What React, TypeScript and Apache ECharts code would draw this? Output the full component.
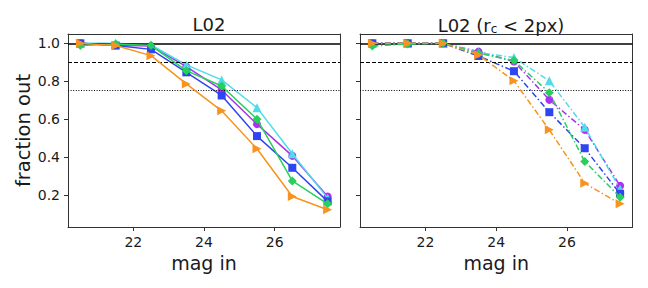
import React, { useEffect, useRef } from "react";
import * as echarts from "echarts";

const mags = [20.5, 21.5, 22.5, 23.5, 24.5, 25.5, 26.5, 27.5];
const xTicks = [22, 24, 26];
const yTicks = [0.2, 0.4, 0.6, 0.8, 1.0];
const refLines = [1.0, 0.9, 0.75];

// Left panel (L02)
const leftPurple = [1.0, 0.99, 0.986, 0.877, 0.754, 0.574, 0.407, 0.193];
const leftCyan = [1.0, 1.0, 0.991, 0.886, 0.807, 0.661, 0.418, 0.184];
const leftBlue = [1.0, 0.988, 0.968, 0.847, 0.725, 0.511, 0.344, 0.167];
const leftGreen = [0.989, 0.996, 0.988, 0.856, 0.775, 0.6, 0.275, 0.154];
const leftOrange = [1.0, 0.988, 0.935, 0.786, 0.644, 0.444, 0.193, 0.123];

// Right panel (L02, r_c < 2px)
const rightPurple = [1.0, 1.0, 1.0, 0.956, 0.904, 0.702, 0.544, 0.249];
const rightCyan = [1.0, 1.0, 1.0, 0.951, 0.925, 0.802, 0.558, 0.232];
const rightBlue = [1.0, 1.0, 1.0, 0.933, 0.853, 0.637, 0.447, 0.207];
const rightGreen = [0.986, 0.996, 1.0, 0.947, 0.909, 0.74, 0.377, 0.189];
const rightOrange = [1.0, 1.0, 1.0, 0.939, 0.802, 0.544, 0.263, 0.154];

const FONT = "DejaVu Sans";
const TXT = "#1a1a1a";

const styles = [
  { color: "#a832f0", symbol: "circle", size: 8, rot: 0 },
  { color: "#4fdcea", symbol: "triangle", size: 9, rot: 0 },
  { color: "#2f45f0", symbol: "rect", size: 8, rot: 0 },
  { color: "#27d05a", symbol: "diamond", size: 9, rot: 0 },
  { color: "#f7931e", symbol: "triangle", size: 9, rot: -90 },
];

export default function App() {
  const ref = useRef<HTMLDivElement>(null);
  useEffect(() => {
    document.body.style.margin = "0";
    if (!ref.current) return;
    const chart = echarts.init(ref.current, null, { renderer: "svg" });
    const grids = [
      { left: 68, right: 308, top: 34, bottom: 61 },
      { left: 360, right: 15.5, top: 34, bottom: 61 },
    ];
    const xAxis = [0, 1].map((i) => ({
      type: "value",
      gridIndex: i,
      min: 20.15,
      max: 27.85,
      name: "mag in",
      nameLocation: "middle",
      nameGap: 26,
      nameTextStyle: { fontFamily: FONT, fontSize: 19, color: TXT },
      splitLine: { show: false },
      axisLine: { show: true, onZero: false, lineStyle: { color: "#333", width: 1 } },
      axisTick: { show: true, length: 4, customValues: xTicks, lineStyle: { color: "#333" } },
      axisLabel: {
        customValues: xTicks,
        fontFamily: FONT,
        fontSize: 14,
        color: TXT,
        margin: 8,
      },
    }));
    const yAxis = [0, 1].map((i) => ({
      type: "value",
      gridIndex: i,
      min: 0.032,
      max: 1.049,
      name: i === 0 ? "fraction out" : "",
      nameLocation: "middle",
      nameGap: 34,
      nameTextStyle: { fontFamily: FONT, fontSize: 19.5, color: TXT },
      splitLine: { show: false },
      axisLine: { show: true, onZero: false, lineStyle: { color: "#333", width: 1 } },
      axisTick: { show: true, length: 4, customValues: yTicks, lineStyle: { color: "#333" } },
      axisLabel: {
        show: i === 0,
        customValues: yTicks,
        formatter: (v: number) => v.toFixed(1),
        fontFamily: FONT,
        fontSize: 14,
        color: TXT,
        margin: 8,
      },
    }));
    const frameX = [0, 1].map((i) => ({
      type: "value",
      gridIndex: i,
      position: "top",
      min: 20.15,
      max: 27.85,
      axisLine: { show: true, onZero: false, lineStyle: { color: "#333", width: 1 } },
      axisTick: { show: false },
      axisLabel: { show: false },
      splitLine: { show: false },
    }));
    const frameY = [0, 1].map((i) => ({
      type: "value",
      gridIndex: i,
      position: "right",
      min: 0.032,
      max: 1.049,
      axisLine: { show: true, onZero: false, lineStyle: { color: "#333", width: 1 } },
      axisTick: { show: false },
      axisLabel: { show: false },
      splitLine: { show: false },
    }));

    const leftData = [leftPurple, leftCyan, leftBlue, leftGreen, leftOrange];
    const rightData = [rightPurple, rightCyan, rightBlue, rightGreen, rightOrange];
    const series: any[] = [];
    [leftData, rightData].forEach((set, gi) => {
      set.forEach((vals, k) => {
        const st = styles[k];
        series.push({
          type: "line",
          xAxisIndex: gi,
          yAxisIndex: gi,
          data: mags.map((m, j) => [m, vals[j]]),
          symbol: st.symbol,
          symbolSize: st.size,
          symbolRotate: st.rot,
          showSymbol: true,
          itemStyle: { color: st.color, opacity: 1 },
          lineStyle: {
            color: st.color,
            width: 1.5,
            type: gi === 0 ? "solid" : [6, 2.5, 1.5, 2.5],
          },
          z: 2 + k,
        });
      });
      series.push({
        type: "line",
        xAxisIndex: gi,
        yAxisIndex: gi,
        data: [],
        z: 10,
        markLine: {
          silent: true,
          symbol: "none",
          label: { show: false },
          data: [
            { yAxis: refLines[0], lineStyle: { color: "#000", width: 1.6, type: "solid" } },
            { yAxis: refLines[1], lineStyle: { color: "#000", width: 1, type: [4, 2] } },
            { yAxis: refLines[2], lineStyle: { color: "#000", width: 1, type: [1, 1.6] } },
          ],
        },
      });
    });

    chart.setOption({
      animation: false,
      backgroundColor: "#fff",
      grid: grids,
      xAxis: [...xAxis, ...frameX],
      yAxis: [...yAxis, ...frameY],
      title: [
        {
          text: "L02",
          left: 204,
          top: 10,
          textAlign: "center",
          textStyle: { fontFamily: FONT, fontSize: 18, fontWeight: "normal", color: TXT },
        },
        {
          text: "L02 (r{sub|c} < 2px)",
          left: 496,
          top: 10,
          textAlign: "center",
          textStyle: {
            fontFamily: FONT,
            fontSize: 18,
            fontWeight: "normal",
            color: TXT,
            rich: {
              sub: { fontFamily: FONT, fontSize: 12, color: TXT, verticalAlign: "bottom", padding: [8, 0, 0, 0] },
            },
          },
        },
      ],
      series,
    });
    return () => chart.dispose();
  }, []);
  return <div ref={ref} style={{ width: 648, height: 288 }} />;
}
